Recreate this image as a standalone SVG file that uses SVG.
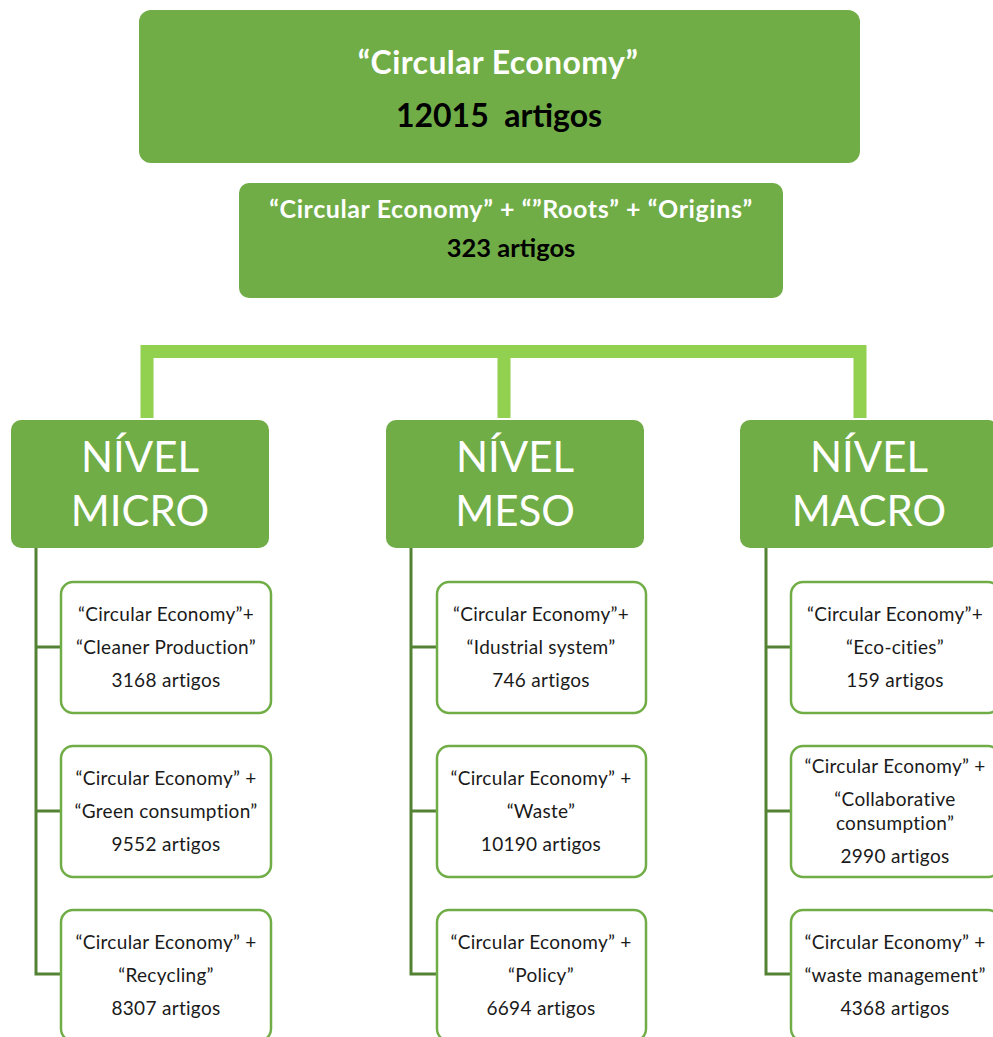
<svg xmlns="http://www.w3.org/2000/svg" width="993" height="1037" viewBox="0 0 993 1037">
<style>
.top{fill:#70AD47;}
.lvl{fill:#70AD47;}
.child{fill:#FFFFFF;stroke:#70AD47;stroke-width:2.5;}
.t{font-family:Lato,"Open Sans",sans-serif;text-anchor:middle;}
.wb{fill:#FFFFFF;font-weight:bold;}
.kb{fill:#000000;font-weight:bold;}
.lv{fill:#FFFFFF;font-size:42px;}
.ct{fill:#1a1a1a;font-size:19px;letter-spacing:0.3px;}
.thick{fill:none;stroke:#92D050;stroke-width:13;}
.thin{fill:none;stroke:#548235;stroke-width:3;}
</style>
<rect width="993" height="1037" fill="#FFFFFF"/>
<g id="connectors">
<path class="thick" d="M147,418 V351.5 H860 V418 M504,351.5 V418"/>
<path class="thin" d="M36,548 V974 H61 M36,647 H61 M36,811 H61"/>
<path class="thin" d="M411,548 V974 H437 M411,647 H437 M411,811 H437"/>
<path class="thin" d="M766,548 V974 H791 M766,647 H791 M766,811 H791"/>
</g>
<g id="node-top">
<rect class="top" x="139" y="10" width="721" height="153" rx="12"/>
<text class="t wb" x="498" y="74" font-size="32" letter-spacing="0.4">“Circular Economy”</text>
<text class="t kb" x="499" y="127" font-size="32" xml:space="preserve">12015  artigos</text>
</g>
<g id="node-roots">
<rect class="top" x="239" y="183" width="544" height="115" rx="10"/>
<text class="t wb" x="511" y="218" font-size="25" letter-spacing="0.6">“Circular Economy” + “”Roots” + “Origins”</text>
<text class="t kb" x="511" y="257" font-size="25.5">323 artigos</text>
</g>
<g id="node-micro">
<rect class="lvl" x="11" y="420" width="258" height="128" rx="10"/>
<text class="t lv" x="140" y="472">NÍVEL</text>
<text class="t lv" x="140" y="526">MICRO</text>
</g>
<g id="node-meso">
<rect class="lvl" x="386" y="420" width="258" height="128" rx="10"/>
<text class="t lv" x="515" y="472">NÍVEL</text>
<text class="t lv" x="515" y="526">MESO</text>
</g>
<g id="node-macro">
<rect class="lvl" x="740" y="420" width="258" height="128" rx="10"/>
<text class="t lv" x="869" y="472">NÍVEL</text>
<text class="t lv" x="869" y="526">MACRO</text>
</g>
<g id="node-micro-1">
<rect class="child" x="61" y="582" width="210" height="131" rx="12"/>
<text class="t ct" x="166" y="621">“Circular Economy”+</text>
<text class="t ct" x="166" y="654">“Cleaner Production”</text>
<text class="t ct" x="166" y="687">3168 artigos</text>
</g>
<g id="node-micro-2">
<rect class="child" x="61" y="746" width="210" height="131" rx="12"/>
<text class="t ct" x="166" y="785">“Circular Economy” +</text>
<text class="t ct" x="166" y="818">“Green consumption”</text>
<text class="t ct" x="166" y="851">9552 artigos</text>
</g>
<g id="node-micro-3">
<rect class="child" x="61" y="910" width="210" height="131" rx="12"/>
<text class="t ct" x="166" y="949">“Circular Economy” +</text>
<text class="t ct" x="166" y="982">“Recycling”</text>
<text class="t ct" x="166" y="1015">8307 artigos</text>
</g>
<g id="node-meso-1">
<rect class="child" x="437" y="582" width="209" height="131" rx="12"/>
<text class="t ct" x="541" y="621">“Circular Economy”+</text>
<text class="t ct" x="541" y="654">“Idustrial system”</text>
<text class="t ct" x="541" y="687">746 artigos</text>
</g>
<g id="node-meso-2">
<rect class="child" x="437" y="746" width="209" height="131" rx="12"/>
<text class="t ct" x="541" y="785">“Circular Economy” +</text>
<text class="t ct" x="541" y="818">“Waste”</text>
<text class="t ct" x="541" y="851">10190 artigos</text>
</g>
<g id="node-meso-3">
<rect class="child" x="437" y="910" width="209" height="131" rx="12"/>
<text class="t ct" x="541" y="949">“Circular Economy” +</text>
<text class="t ct" x="541" y="982">“Policy”</text>
<text class="t ct" x="541" y="1015">6694 artigos</text>
</g>
<g id="node-macro-1">
<rect class="child" x="791" y="582" width="209" height="131" rx="12"/>
<text class="t ct" x="895" y="621">“Circular Economy”+</text>
<text class="t ct" x="895" y="654">“Eco-cities”</text>
<text class="t ct" x="895" y="687">159 artigos</text>
</g>
<g id="node-macro-2">
<rect class="child" x="791" y="746" width="209" height="131" rx="12"/>
<text class="t ct" x="895" y="773">“Circular Economy” +</text>
<text class="t ct" x="895" y="806">“Collaborative</text>
<text class="t ct" x="895" y="830">consumption”</text>
<text class="t ct" x="895" y="863">2990 artigos</text>
</g>
<g id="node-macro-3">
<rect class="child" x="791" y="910" width="209" height="131" rx="12"/>
<text class="t ct" x="895" y="949">“Circular Economy” +</text>
<text class="t ct" x="895" y="982">“waste management”</text>
<text class="t ct" x="895" y="1015">4368 artigos</text>
</g>
</svg>
